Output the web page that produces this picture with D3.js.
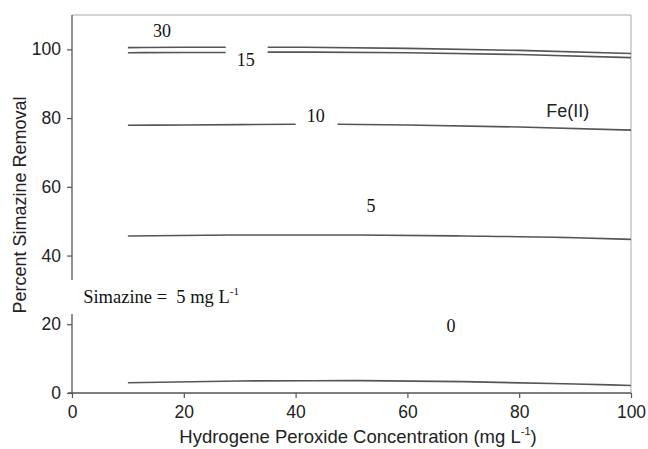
<!DOCTYPE html>
<html>
<head>
<meta charset="utf-8">
<script src="https://cdn.jsdelivr.net/npm/d3@7"></script>
<style>
  body { margin: 0; background: #fff; }
  svg { display: block; }
</style>
</head>
<body>
<div id="chart"></div>
<script>
// values (x = H2O2 mg/L, y = % removal); null = gap for the label
const fe30 = [[10, 100.5], [20, 100.6], [27.5, 100.6], null, [35, 100.6], [40, 100.6], [60, 100.3], [80, 99.7], [100, 98.8]];
const fe15 = [[10, 99.0], [20, 99.1], [27.5, 99.1], null, [35, 99.2], [40, 99.2], [60, 99.0], [80, 98.5], [100, 97.6]];
const fe10 = [[10, 77.9], [20, 78.0], [40, 78.2], null, [47.5, 78.2], [60, 78.0], [80, 77.4], [100, 76.5]];
const fe5 = [[10, 45.7], [30, 46.0], [50, 46.0], [70, 45.7], [90, 45.2], [100, 44.7]];
const fe0 = [[10, 3.0], [30, 3.5], [50, 3.6], [70, 3.3], [90, 2.6], [100, 2.2]];
const series = [fe30, fe15, fe10, fe5, fe0];

const curveLabels = ['30', '15', '10', '5', '0'];
const curveLabelAt = [[16.1, 103.5], [31.1, 95.3], [43.6, 78.8], [53.5, 52.6], [67.8, 17.7]];

const xTicks = [0, 20, 40, 60, 80, 100];
const yTicks = [0, 20, 40, 60, 80, 100];

const width = 648, height = 449;
const margin = {top: 15, right: 17, bottom: 56, left: 72};

const svg = d3.select('#chart').append('svg')
    .attr('width', width)
    .attr('height', height);

const x = d3.scaleLinear().domain([0, 100]).range([margin.left, width - margin.right]);
const y = d3.scaleLinear().domain([0, 110]).range([height - margin.bottom, margin.top]);

// light frame on top and right
svg.append('path')
    .attr('d', `M${x(0)},${y(110)}H${x(100)}V${y(0)}`)
    .attr('fill', 'none')
    .attr('stroke', '#aaa')
    .attr('stroke-width', 1);

const axisColor = '#555';
const sans = 'Arial, "Liberation Sans", sans-serif';
const serif = '"Times New Roman", "Liberation Serif", serif';

const xAxis = svg.append('g')
    .attr('transform', `translate(0,${y(0)})`)
    .call(d3.axisBottom(x).tickValues(xTicks).tickSize(5).tickPadding(8).tickSizeOuter(0));
const yAxis = svg.append('g')
    .attr('transform', `translate(${x(0)},0)`)
    .call(d3.axisLeft(y).tickValues(yTicks).tickSize(5).tickPadding(6).tickSizeOuter(0));

[xAxis, yAxis].forEach(a => {
    a.select('.domain').attr('stroke', axisColor).attr('stroke-width', 1.3);
    a.selectAll('.tick line').attr('stroke', axisColor).attr('stroke-width', 1.2);
    a.selectAll('.tick text')
        .attr('fill', '#222')
        .style('font-family', sans)
        .style('font-size', '17.5px');
});
// y axis line runs up to the top of the frame, x axis pokes slightly left
yAxis.select('.domain').attr('d', `M0,${y(0)}V${y(110)}`);
xAxis.select('.domain').attr('d', `M${x(0) - 4},0H${x(100)}`);

const line = d3.line()
    .defined(d => d !== null)
    .x(d => x(d[0]))
    .y(d => y(d[1]))
    .curve(d3.curveMonotoneX);

svg.selectAll('path.curve')
    .data(series)
    .enter()
    .append('path')
    .attr('class', 'curve')
    .attr('d', line)
    .attr('fill', 'none')
    .attr('stroke', '#555')
    .attr('stroke-width', 1.6);

svg.selectAll('text.clabel')
    .data(curveLabels)
    .enter()
    .append('text')
    .attr('class', 'clabel')
    .attr('x', (d, i) => x(curveLabelAt[i][0]))
    .attr('y', (d, i) => y(curveLabelAt[i][1]))
    .attr('text-anchor', 'middle')
    .style('font-family', serif)
    .style('font-size', '18px')
    .attr('fill', '#111')
    .text(d => d);

svg.append('text')
    .attr('x', x(88.7))
    .attr('y', y(80.2))
    .attr('text-anchor', 'middle')
    .style('font-family', sans)
    .style('font-size', '18px')
    .attr('fill', '#222')
    .text('Fe(II)');

// Simazine note sits on a white box that breaks the y axis
svg.append('rect')
    .attr('x', x(0) - 3)
    .attr('y', 280)
    .attr('width', 10)
    .attr('height', 34)
    .attr('fill', '#fff');

const note = svg.append('text')
    .attr('x', x(2.0))
    .attr('y', y(26.2))
    .style('font-family', serif)
    .style('font-size', '18.5px')
    .attr('fill', '#111');
note.append('tspan').text('Simazine =\u00a0 5 mg L');
note.append('tspan').attr('dy', -8).style('font-size', '11px').text('-1');

// axis titles
const xTitle = svg.append('text')
    .attr('x', 358)
    .attr('y', 443)
    .attr('text-anchor', 'middle')
    .style('font-family', sans)
    .style('font-size', '18.5px')
    .attr('fill', '#222');
xTitle.append('tspan').text('Hydrogene Peroxide Concentration (mg L');
xTitle.append('tspan').attr('dy', -8).style('font-size', '11px').text('-1');
xTitle.append('tspan').attr('dy', 8).text(')');

svg.append('text')
    .attr('transform', `translate(26,205) rotate(-90)`)
    .attr('text-anchor', 'middle')
    .style('font-family', sans)
    .style('font-size', '18px')
    .attr('fill', '#222')
    .text('Percent Simazine Removal');
</script>
</body>
</html>
